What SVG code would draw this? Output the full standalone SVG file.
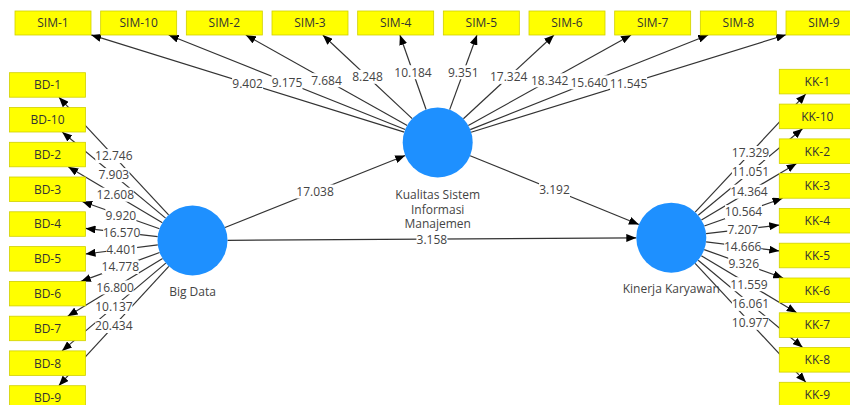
<svg xmlns="http://www.w3.org/2000/svg" width="850" height="405" viewBox="0 0 850 405">
<style>
.ind rect{fill:#FFFF00;stroke:#d0d000;stroke-width:0.8}
.ind text{font-family:"Open Sans","Noto Sans",sans-serif;font-size:12px;fill:#333;text-anchor:middle}
.lv circle{fill:#1E90FF}
.lv text{font-family:"Open Sans","Noto Sans",sans-serif;font-size:12px;fill:#444;text-anchor:middle}
#connectors line{stroke:#333;stroke-width:1.2;marker-end:url(#ah)}
#connectors rect{fill:#fff}
#connectors text{font-family:"Open Sans","Noto Sans",sans-serif;font-size:12px;fill:#444;text-anchor:middle}
</style>
<defs>
<marker id="ah" viewBox="0 0 10 8" refX="10" refY="4" markerWidth="10" markerHeight="8" markerUnits="userSpaceOnUse" orient="auto"><path d="M0,0 L10,4 L0,8 z" fill="#000"/></marker>
</defs>
<rect width="850" height="405" fill="#fff"/>
<g id="connectors">
<line x1="404.3" y1="132.1" x2="91.2" y2="34.9"/>
<line x1="405.2" y1="129.5" x2="168.7" y2="35"/>
<line x1="407.2" y1="125.4" x2="245.8" y2="35"/>
<line x1="412.2" y1="118.6" x2="322.8" y2="35"/>
<line x1="426.1" y1="109.5" x2="399.9" y2="35"/>
<line x1="449.7" y1="109.6" x2="477" y2="35"/>
<line x1="463.4" y1="118.7" x2="554" y2="35"/>
<line x1="468.3" y1="125.5" x2="631.1" y2="35"/>
<line x1="470.2" y1="129.6" x2="708.2" y2="35"/>
<line x1="471.1" y1="132.2" x2="786" y2="34.8"/>
<line x1="168.6" y1="214.9" x2="58.9" y2="97.2"/>
<line x1="165.6" y1="218.1" x2="62.2" y2="132"/>
<line x1="162.4" y1="222.7" x2="68.2" y2="166.8"/>
<line x1="159.5" y1="228.8" x2="82.2" y2="201.5"/>
<line x1="157.7" y1="236.6" x2="85.5" y2="228.4"/>
<line x1="157.8" y1="244.9" x2="85.5" y2="254"/>
<line x1="159.6" y1="252.5" x2="80.9" y2="281.4"/>
<line x1="162.6" y1="258.6" x2="67.7" y2="316.2"/>
<line x1="165.8" y1="263.1" x2="62" y2="350.9"/>
<line x1="168.8" y1="266.3" x2="58.8" y2="385.7"/>
<line x1="695.2" y1="212.1" x2="805.8" y2="93.9"/>
<line x1="698.2" y1="215.3" x2="802.5" y2="128.7"/>
<line x1="701.4" y1="219.9" x2="796.6" y2="163.5"/>
<line x1="704.3" y1="226" x2="782.6" y2="198.2"/>
<line x1="706.1" y1="233.7" x2="779.3" y2="225.1"/>
<line x1="706.1" y1="241.9" x2="779.3" y2="250.9"/>
<line x1="704.2" y1="249.6" x2="783.2" y2="278"/>
<line x1="701.3" y1="255.7" x2="796.7" y2="312.8"/>
<line x1="698.2" y1="260.2" x2="802.6" y2="347.5"/>
<line x1="695.1" y1="263.3" x2="805.9" y2="382.3"/>
<line x1="225" y1="227.5" x2="405.2" y2="155.5"/>
<line x1="470.1" y1="155.7" x2="638.9" y2="224.5"/>
<line x1="227.5" y1="240.3" x2="636.3" y2="237.9"/>
<rect x="232.1" y="76.5" width="31" height="14"/><text x="247.6" y="87.8">9.402</text>
<rect x="271.5" y="75.3" width="31" height="14"/><text x="287" y="86.5">9.175</text>
<rect x="311" y="73.2" width="31" height="14"/><text x="326.5" y="84.5">7.684</text>
<rect x="352" y="69.8" width="31" height="14"/><text x="367.5" y="81.1">8.248</text>
<rect x="394.5" y="65.2" width="37" height="14"/><text x="413" y="76.5">10.184</text>
<rect x="447.8" y="65.3" width="31" height="14"/><text x="463.3" y="76.6">9.351</text>
<rect x="490.2" y="69.9" width="37" height="14"/><text x="508.7" y="81.2">17.324</text>
<rect x="531.2" y="73.3" width="37" height="14"/><text x="549.7" y="84.6">18.342</text>
<rect x="570.7" y="75.3" width="37" height="14"/><text x="589.2" y="86.6">15.640</text>
<rect x="610.1" y="76.5" width="37" height="14"/><text x="628.6" y="87.8">11.545</text>
<rect x="95.3" y="149.1" width="37" height="14"/><text x="113.8" y="160.4">12.746</text>
<rect x="98.4" y="168.1" width="31" height="14"/><text x="113.9" y="179.4">7.903</text>
<rect x="96.8" y="187.7" width="37" height="14"/><text x="115.3" y="199">12.608</text>
<rect x="105.4" y="208.2" width="31" height="14"/><text x="120.9" y="219.5">9.920</text>
<rect x="103.1" y="225.5" width="37" height="14"/><text x="121.6" y="236.8">16.570</text>
<rect x="106.1" y="242.5" width="31" height="14"/><text x="121.6" y="253.8">4.401</text>
<rect x="101.8" y="260" width="37" height="14"/><text x="120.3" y="271.3">14.778</text>
<rect x="96.6" y="280.4" width="37" height="14"/><text x="115.1" y="291.7">16.800</text>
<rect x="95.4" y="300" width="37" height="14"/><text x="113.9" y="311.3">10.137</text>
<rect x="95.3" y="319" width="37" height="14"/><text x="113.8" y="330.3">20.434</text>
<rect x="732" y="146" width="37" height="14"/><text x="750.5" y="157.3">17.329</text>
<rect x="731.9" y="165" width="37" height="14"/><text x="750.4" y="176.3">11.051</text>
<rect x="730.5" y="184.7" width="37" height="14"/><text x="749" y="196">14.364</text>
<rect x="725" y="205.1" width="37" height="14"/><text x="743.5" y="216.4">10.564</text>
<rect x="727.2" y="222.4" width="31" height="14"/><text x="742.7" y="233.7">7.207</text>
<rect x="724.2" y="239.4" width="37" height="14"/><text x="742.7" y="250.7">14.666</text>
<rect x="728.2" y="256.8" width="31" height="14"/><text x="743.7" y="268.1">9.326</text>
<rect x="730.5" y="277.2" width="37" height="14"/><text x="749" y="288.5">11.559</text>
<rect x="731.9" y="296.9" width="37" height="14"/><text x="750.4" y="308.2">16.061</text>
<rect x="732" y="315.8" width="37" height="14"/><text x="750.5" y="327.1">10.977</text>
<rect x="296.6" y="184.5" width="37" height="14"/><text x="315.1" y="195.8">17.038</text>
<rect x="539" y="183.1" width="31" height="14"/><text x="554.5" y="194.4">3.192</text>
<rect x="416.4" y="233.1" width="31" height="13"/><text x="431.9" y="243.6">3.158</text>
</g>
<g id="sim1" class="ind"><rect x="15" y="11" width="76" height="24"/><text x="53" y="27.3">SIM-1</text></g>
<g id="sim10" class="ind"><rect x="100.67" y="11" width="76" height="24"/><text x="138.67" y="27.3">SIM-10</text></g>
<g id="sim2" class="ind"><rect x="186.33" y="11" width="76" height="24"/><text x="224.33" y="27.3">SIM-2</text></g>
<g id="sim3" class="ind"><rect x="272" y="11" width="76" height="24"/><text x="310" y="27.3">SIM-3</text></g>
<g id="sim4" class="ind"><rect x="357.67" y="11" width="76" height="24"/><text x="395.67" y="27.3">SIM-4</text></g>
<g id="sim5" class="ind"><rect x="443.33" y="11" width="76" height="24"/><text x="481.33" y="27.3">SIM-5</text></g>
<g id="sim6" class="ind"><rect x="529" y="11" width="76" height="24"/><text x="567" y="27.3">SIM-6</text></g>
<g id="sim7" class="ind"><rect x="614.67" y="11" width="76" height="24"/><text x="652.67" y="27.3">SIM-7</text></g>
<g id="sim8" class="ind"><rect x="700.33" y="11" width="76" height="24"/><text x="738.33" y="27.3">SIM-8</text></g>
<g id="sim9" class="ind"><rect x="786" y="11" width="76" height="24"/><text x="824" y="27.3">SIM-9</text></g>
<g id="bd1" class="ind"><rect x="9.5" y="72.7" width="76" height="24.5"/><text x="47.5" y="89.3">BD-1</text></g>
<g id="bd10" class="ind"><rect x="9.5" y="107.5" width="76" height="24.5"/><text x="47.5" y="124">BD-10</text></g>
<g id="bd2" class="ind"><rect x="9.5" y="142.3" width="76" height="24.5"/><text x="47.5" y="158.8">BD-2</text></g>
<g id="bd3" class="ind"><rect x="9.5" y="177" width="76" height="24.5"/><text x="47.5" y="193.6">BD-3</text></g>
<g id="bd4" class="ind"><rect x="9.5" y="211.8" width="76" height="24.5"/><text x="47.5" y="228.4">BD-4</text></g>
<g id="bd5" class="ind"><rect x="9.5" y="246.6" width="76" height="24.5"/><text x="47.5" y="263.2">BD-5</text></g>
<g id="bd6" class="ind"><rect x="9.5" y="281.4" width="76" height="24.5"/><text x="47.5" y="297.9">BD-6</text></g>
<g id="bd7" class="ind"><rect x="9.5" y="316.2" width="76" height="24.5"/><text x="47.5" y="332.7">BD-7</text></g>
<g id="bd8" class="ind"><rect x="9.5" y="350.9" width="76" height="24.5"/><text x="47.5" y="367.5">BD-8</text></g>
<g id="bd9" class="ind"><rect x="9.5" y="385.7" width="76" height="24.5"/><text x="47.5" y="402.3">BD-9</text></g>
<g id="kk1" class="ind"><rect x="779.3" y="69.3" width="76" height="24.6"/><text x="817.3" y="85.9">KK-1</text></g>
<g id="kk10" class="ind"><rect x="779.3" y="104.1" width="76" height="24.6"/><text x="817.3" y="120.7">KK-10</text></g>
<g id="kk2" class="ind"><rect x="779.3" y="138.9" width="76" height="24.6"/><text x="817.3" y="155.5">KK-2</text></g>
<g id="kk3" class="ind"><rect x="779.3" y="173.6" width="76" height="24.6"/><text x="817.3" y="190.2">KK-3</text></g>
<g id="kk4" class="ind"><rect x="779.3" y="208.4" width="76" height="24.6"/><text x="817.3" y="225">KK-4</text></g>
<g id="kk5" class="ind"><rect x="779.3" y="243.2" width="76" height="24.6"/><text x="817.3" y="259.8">KK-5</text></g>
<g id="kk6" class="ind"><rect x="779.3" y="278" width="76" height="24.6"/><text x="817.3" y="294.6">KK-6</text></g>
<g id="kk7" class="ind"><rect x="779.3" y="312.8" width="76" height="24.6"/><text x="817.3" y="329.4">KK-7</text></g>
<g id="kk8" class="ind"><rect x="779.3" y="347.5" width="76" height="24.6"/><text x="817.3" y="364.1">KK-8</text></g>
<g id="kk9" class="ind"><rect x="779.3" y="382.3" width="76" height="24.6"/><text x="817.3" y="398.9">KK-9</text></g>
<g id="bigdata" class="lv"><circle cx="192.5" cy="240.5" r="35"/><text x="192.5" y="296">Big Data</text></g>
<g id="ksim" class="lv"><circle cx="437.7" cy="142.5" r="35"/><text x="437.7" y="199"><tspan x="437.7">Kualitas Sistem</tspan><tspan x="437.7" dy="14.5">Informasi</tspan><tspan x="437.7" dy="14.5">Manajemen</tspan></text></g>
<g id="kinerja" class="lv"><circle cx="671.3" cy="237.7" r="35"/><text x="671.3" y="293.3">Kinerja Karyawan</text></g>
</svg>
